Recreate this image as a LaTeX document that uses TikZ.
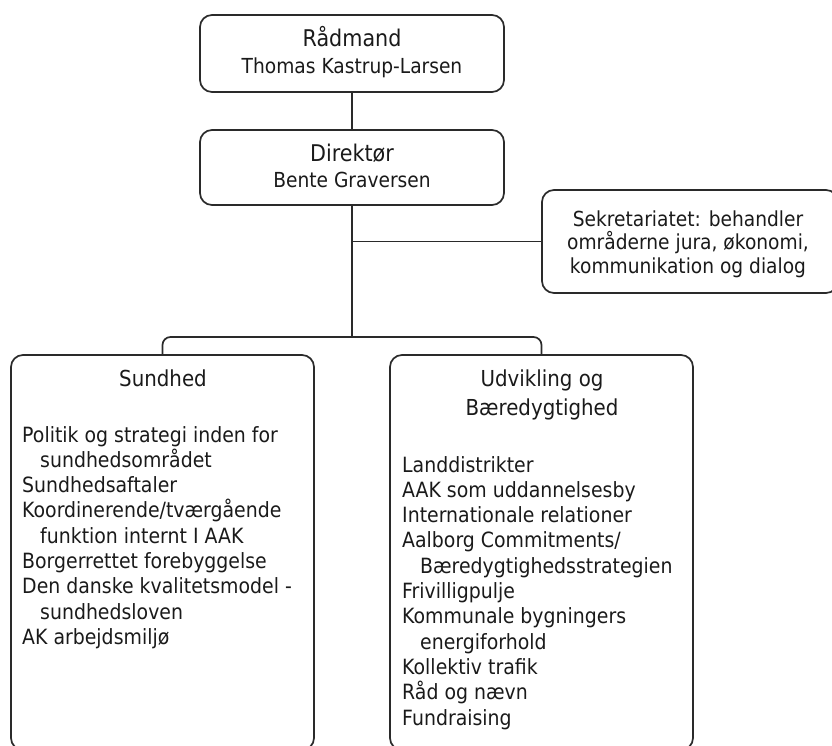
\documentclass[tikz,border=0pt]{standalone}
\usepackage{fontspec}
\setmainfont{DejaVu Sans}[FakeStretch=0.9]
\definecolor{ink}{HTML}{2A2A2A}
\definecolor{txt}{HTML}{1A1A1A}
\tikzset{
  box/.style={draw=ink, line width=1.7pt, rounded corners=12pt, inner sep=0pt},
  conn/.style={draw=ink, line width=1.7pt},
  head/.style={anchor=base, align=center, inner sep=0pt, text=txt, font=\fontsize{23}{27}\selectfont},
  sub/.style={anchor=base, align=center, inner sep=0pt, text=txt, font=\fontsize{20.7}{27}\selectfont},
  listtxt/.style={anchor=base west, align=left, inner sep=0pt, text=txt, font=\fontsize{21}{25.3}\selectfont},
}
\newcommand{\ind}{\hspace*{18pt}}
\begin{document}
\begin{tikzpicture}[x=1pt,y=-1pt]
\useasboundingbox (0,0) rectangle (832,746);
\clip (0,0) rectangle (832,746);
% boxes
\node[box, minimum width=304pt, minimum height=77pt] (raad) at (352,53.5) {};
\node[box, minimum width=304pt, minimum height=75pt] (dir) at (352,167.5) {};
\node[box, minimum width=296pt, minimum height=103pt] (sek) at (690,241.5) {};
\node[box, minimum width=303pt, minimum height=395pt] (sund) at (162.5,552.5) {};
\node[box, minimum width=303pt, minimum height=395pt] (udv) at (541.5,552.5) {};
% connectors
\coordinate (j) at (352,337);
\draw[conn] (raad.south) -- (dir.north);
\draw[conn] (dir.south) -- (j);
\draw[conn] (sek.west) -- (sek.west -| dir.south);
\draw[conn, rounded corners=8pt] (sund.north) |- (j) -| (udv.north);
% texts (multi-line nodes: base = last line's baseline)
\node[head] (t1) at (352,47) {Rådmand};
\node[sub] (t2) at (352,74) {Thomas Kastrup-Larsen};
\node[head] (t3) at (352,162) {Direktør};
\node[sub] (t4) at (352,188) {Bente Graversen};
\node[sub, font=\fontsize{20.7}{23.5}\selectfont] (t5) at (688,273) {Sekretariatet: behandler\\områderne jura, økonomi,\\kommunikation og dialog};
\node[sub, font=\fontsize{22}{29}\selectfont] (t6) at (163,386) {Sundhed};
\node[sub, font=\fontsize{22}{29}\selectfont] (t7) at (542,415) {Udvikling og\\Bæredygtighed};
\node[listtxt] (l1) at (22,644.4) {Politik og strategi inden for\\
\ind sundhedsområdet\\
Sundhedsaftaler\\
Koordinerende/tværgående\\
\ind funktion internt I AAK\\
Borgerrettet forebyggelse\\
Den danske kvalitetsmodel -\\
\ind sundhedsloven\\
AK arbejdsmiljø};
\node[listtxt] (l2) at (402,725) {Landdistrikter\\
AAK som uddannelsesby\\
Internationale relationer\\
Aalborg Commitments/\\
\ind Bæredygtighedsstrategien\\
Frivilligpulje\\
Kommunale bygningers\\
\ind energiforhold\\
Kollektiv trafik\\
Råd og nævn\\
Fundraising};
\end{tikzpicture}
\end{document}
